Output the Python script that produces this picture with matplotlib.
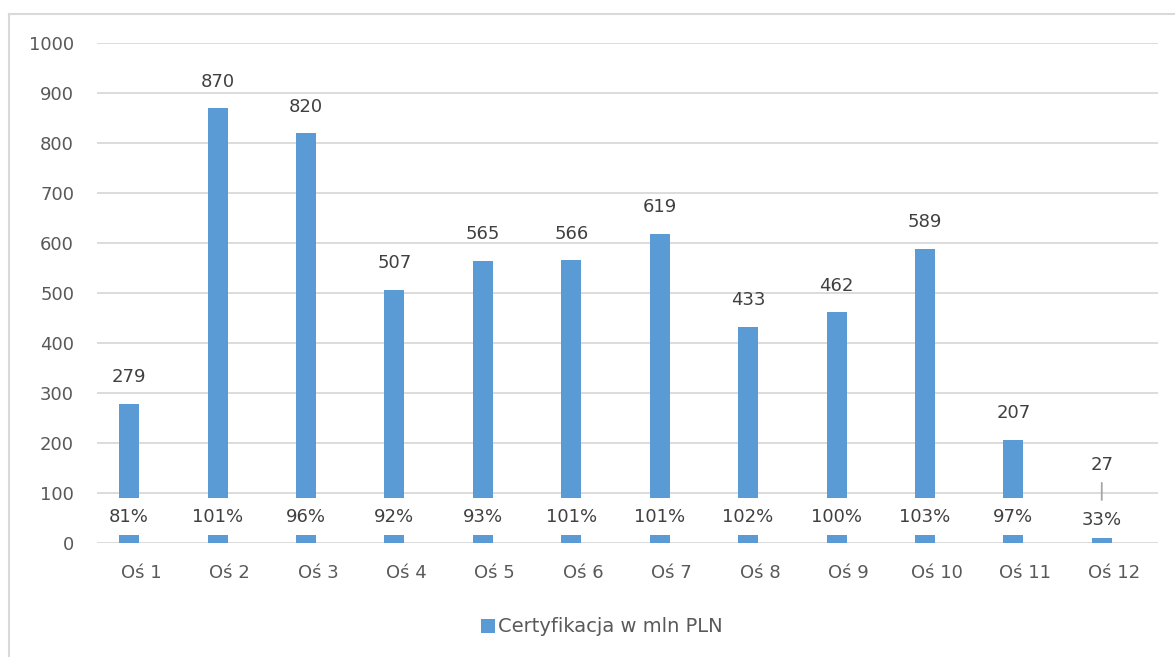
import matplotlib
matplotlib.use("Agg")
import matplotlib.pyplot as plt
from matplotlib.lines import Line2D

categories = ["Oś 1", "Oś 2", "Oś 3", "Oś 4", "Oś 5", "Oś 6", "Oś 7", "Oś 8", "Oś 9", "Oś 10", "Oś 11", "Oś 12"]
values = [279, 870, 820, 507, 565, 566, 619, 433, 462, 589, 207, 27]
percents = ["81%", "101%", "96%", "92%", "93%", "101%", "101%", "102%", "100%", "103%", "97%", "33%"]
series_name = "Certyfikacja w mln PLN"
yticks = [0, 100, 200, 300, 400, 500, 600, 700, 800, 900, 1000]

BAR = "#5B9BD5"
GRID = "#D9D9D9"
TXT = "#404040"
TICK = "#595959"
FS = 13

fig = plt.figure(figsize=(11.75, 6.57), dpi=100)
ax = fig.add_axes([97 / 1175, 1 - 543 / 657, (1158 - 97) / 1175, (543 - 43) / 657])

offset = -0.136
width = 0.226
xs = [i + offset for i in range(len(categories))]
bars = ax.bar(xs, values, width=width, color=BAR, zorder=2, label=series_name)

ax.set_xlim(-0.5, len(categories) - 0.5)
ax.set_ylim(0, 1000)
ax.set_yticks(yticks)
ax.set_xticks(range(len(categories)))
ax.set_xticklabels(categories)
ax.tick_params(axis="both", length=0, labelsize=FS, labelcolor=TICK)
ax.tick_params(axis="y", pad=16.5)
ax.tick_params(axis="x", pad=15)
ax.grid(axis="y", color=GRID, linewidth=1.3, zorder=0)
for s in ax.spines.values():
    s.set_visible(False)

# value labels above bars
n = len(values)
for i, (x, v) in enumerate(zip(xs, values)):
    if i == n - 1:
        ax.annotate(str(v), xy=(x, 86), xytext=(x, 155), ha="center", va="center",
                    fontsize=FS, color=TXT, zorder=5,
                    arrowprops=dict(arrowstyle="-", color="#A6A6A6", lw=1.3,
                                    shrinkA=4, shrinkB=0))
    else:
        ax.annotate(str(v), xy=(x, v), xytext=(0, 19), textcoords="offset points",
                    ha="center", va="center", fontsize=FS, color=TXT, zorder=5)

# percentage labels near the base
for i, (x, p) in enumerate(zip(xs, percents)):
    ypos = 46 if i == n - 1 else 53
    ax.text(x, ypos, p, ha="center", va="center", fontsize=FS, color=TXT, zorder=4,
            bbox=dict(boxstyle="square,pad=0.5", facecolor="white", edgecolor="none"))

# chart border (top and left visible)
fig.add_artist(Line2D([9 / 1175, 9 / 1175], [0, 1 - 14 / 657], transform=fig.transFigure,
                      color=GRID, lw=1.5))
fig.add_artist(Line2D([9 / 1175, 1], [1 - 14 / 657, 1 - 14 / 657], transform=fig.transFigure,
                      color=GRID, lw=1.5))

leg = fig.legend(handles=[bars], labels=[series_name], loc="center",
                 bbox_to_anchor=(602 / 1175, 1 - 627 / 657), frameon=False,
                 fontsize=14, handlelength=0.7, handleheight=0.7, handletextpad=0.2)
for t in leg.get_texts():
    t.set_color(TICK)

fig.savefig("out.png", dpi=100, facecolor="white")
